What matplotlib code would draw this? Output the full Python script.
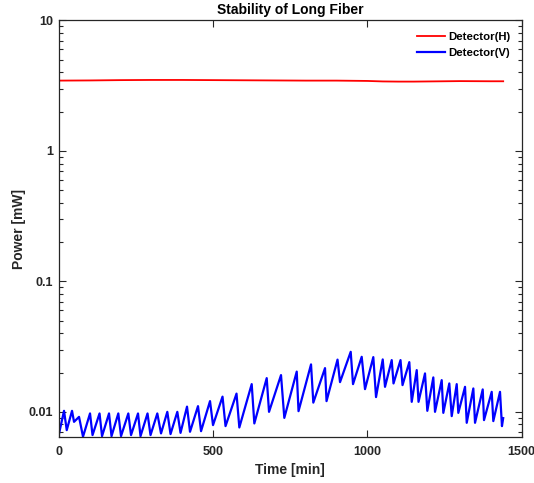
import matplotlib
matplotlib.use("Agg")
import matplotlib.pyplot as plt
from matplotlib.ticker import LogLocator, NullFormatter, FixedLocator, FixedFormatter

plt.rcParams['font.family'] = ['Liberation Sans', 'DejaVu Sans']
plt.rcParams['font.weight'] = 'bold'

# ---- data ----
title = "Stability of Long Fiber"
xlabel = "Time [min]"
ylabel = "Power [mW]"
series_names = ["Detector(H)", "Detector(V)"]

h_time = [0, 100, 200, 300, 400, 500, 600, 700, 800, 900, 1000, 1050, 1100, 1150, 1200, 1300, 1400, 1440]
h_power = [3.46, 3.47, 3.49, 3.50, 3.50, 3.49, 3.48, 3.47, 3.46, 3.46, 3.44, 3.41, 3.40, 3.40, 3.41, 3.43, 3.42, 3.42]

v_time = [2, 17.8, 26.6, 43.7, 50.2, 66.4, 79.3, 102.0, 110.1, 132.8, 140.9, 163.5, 171.6,
          193.6, 202.4, 226.0, 234.8, 257.4, 265.5, 288.2, 297.9, 319.9, 331.9, 352.3, 362.7,
          384.7, 395.1, 416.1, 425.8, 451.7, 461.5, 490.6, 500.3, 531.1, 540.8, 576.4, 585.5,
          625.6, 634.1, 674.2, 681.7, 720.5, 731.2, 771.4, 777.2, 817.7, 825.1, 863.0, 867.9,
          903.5, 911.6, 946.2, 953.7, 981.8, 992.5, 1019.4, 1028.2, 1049.9, 1057.3, 1079.0,
          1084.8, 1107.5, 1114.0, 1136.0, 1143.8, 1160.0, 1165.8, 1186.8, 1194.3, 1213.7,
          1219.2, 1240.9, 1246.1, 1265.5, 1273.3, 1289.5, 1294.7, 1316.4, 1321.9, 1343.3,
          1348.8, 1373.7, 1377.9, 1402.8, 1408.0, 1429.7, 1436.0, 1440.0]
v_power = [0.00687, 0.01018, 0.00724, 0.01018, 0.00838, 0.00915, 0.00645, 0.00972, 0.00663,
           0.00972, 0.00651, 0.00972, 0.00651, 0.00972, 0.00651, 0.00972, 0.00663, 0.00972,
           0.00651, 0.00972, 0.00663, 0.00972, 0.00683, 0.0100, 0.00675, 0.0100, 0.00690,
           0.01096, 0.00703, 0.01106, 0.00711, 0.01208, 0.00791, 0.01308, 0.00777, 0.01379,
           0.00759, 0.01631, 0.00815, 0.01813, 0.0100, 0.01912, 0.00899, 0.02034, 0.01012,
           0.02310, 0.01177, 0.02163, 0.01208, 0.02513, 0.01689, 0.02884, 0.01631, 0.02641,
           0.01493, 0.02627, 0.01297, 0.02522, 0.01555, 0.02492, 0.01651, 0.02492, 0.01603,
           0.02404, 0.01193, 0.02089, 0.01193, 0.01970, 0.01018, 0.01836, 0.0100, 0.01750,
           0.00982, 0.01651, 0.00927, 0.01631, 0.00982, 0.01555, 0.00824, 0.01511, 0.00824,
           0.01485, 0.00864, 0.01423, 0.00849, 0.01423, 0.00777, 0.00895]

x_ticks = [0, 500, 1000, 1500]
x_ticklabels = ["0", "500", "1000", "1500"]
y_ticks = [0.01, 0.1, 1, 10]
y_ticklabels = ["0.01", "0.1", "1", "10"]

# ---- figure ----
fig = plt.figure(figsize=(5.34, 4.83), dpi=100)
ax = fig.add_axes([0.1096, 0.0959, 0.8674, 0.8617])

ax.plot(h_time, h_power, color='#ff0000', lw=1.3, label=series_names[0])
ax.plot(v_time, v_power, color='#0000ff', lw=1.6, label=series_names[1])

ax.set_yscale('log')
ax.set_xlim(0, 1500)
ax.set_ylim(0.00645, 10)

ax.xaxis.set_major_locator(FixedLocator(x_ticks))
ax.xaxis.set_major_formatter(FixedFormatter(x_ticklabels))
ax.yaxis.set_major_locator(FixedLocator(y_ticks))
ax.yaxis.set_major_formatter(FixedFormatter(y_ticklabels))
ax.yaxis.set_minor_locator(LogLocator(base=10, subs=range(2, 10), numticks=20))
ax.yaxis.set_minor_formatter(NullFormatter())

dark = '#262626'
for s in ax.spines.values():
    s.set_color(dark)
    s.set_linewidth(0.9)
ax.tick_params(which='both', direction='in', top=True, right=True, colors=dark,
               labelsize=9, width=0.8)
ax.tick_params(which='major', length=5)
ax.tick_params(which='minor', length=3)
ax.tick_params(axis='x', which='major', pad=7)
ax.tick_params(axis='y', which='major', pad=4)
for lab in ax.get_xticklabels() + ax.get_yticklabels():
    lab.set_fontweight('bold')

ax.set_title(title, fontsize=10, fontweight='bold', color='black', pad=5)
ax.set_xlabel(xlabel, fontsize=10, fontweight='bold', color=dark, labelpad=3)
ax.set_ylabel(ylabel, fontsize=10, fontweight='bold', color=dark, labelpad=2)

leg = ax.legend(loc='upper right', frameon=False, fontsize=8.2, handlelength=2.4,
                handletextpad=0.3, labelspacing=0.5, borderaxespad=0.6)
for t in leg.get_texts():
    t.set_fontweight('bold')

fig.savefig('out.png', dpi=100)
